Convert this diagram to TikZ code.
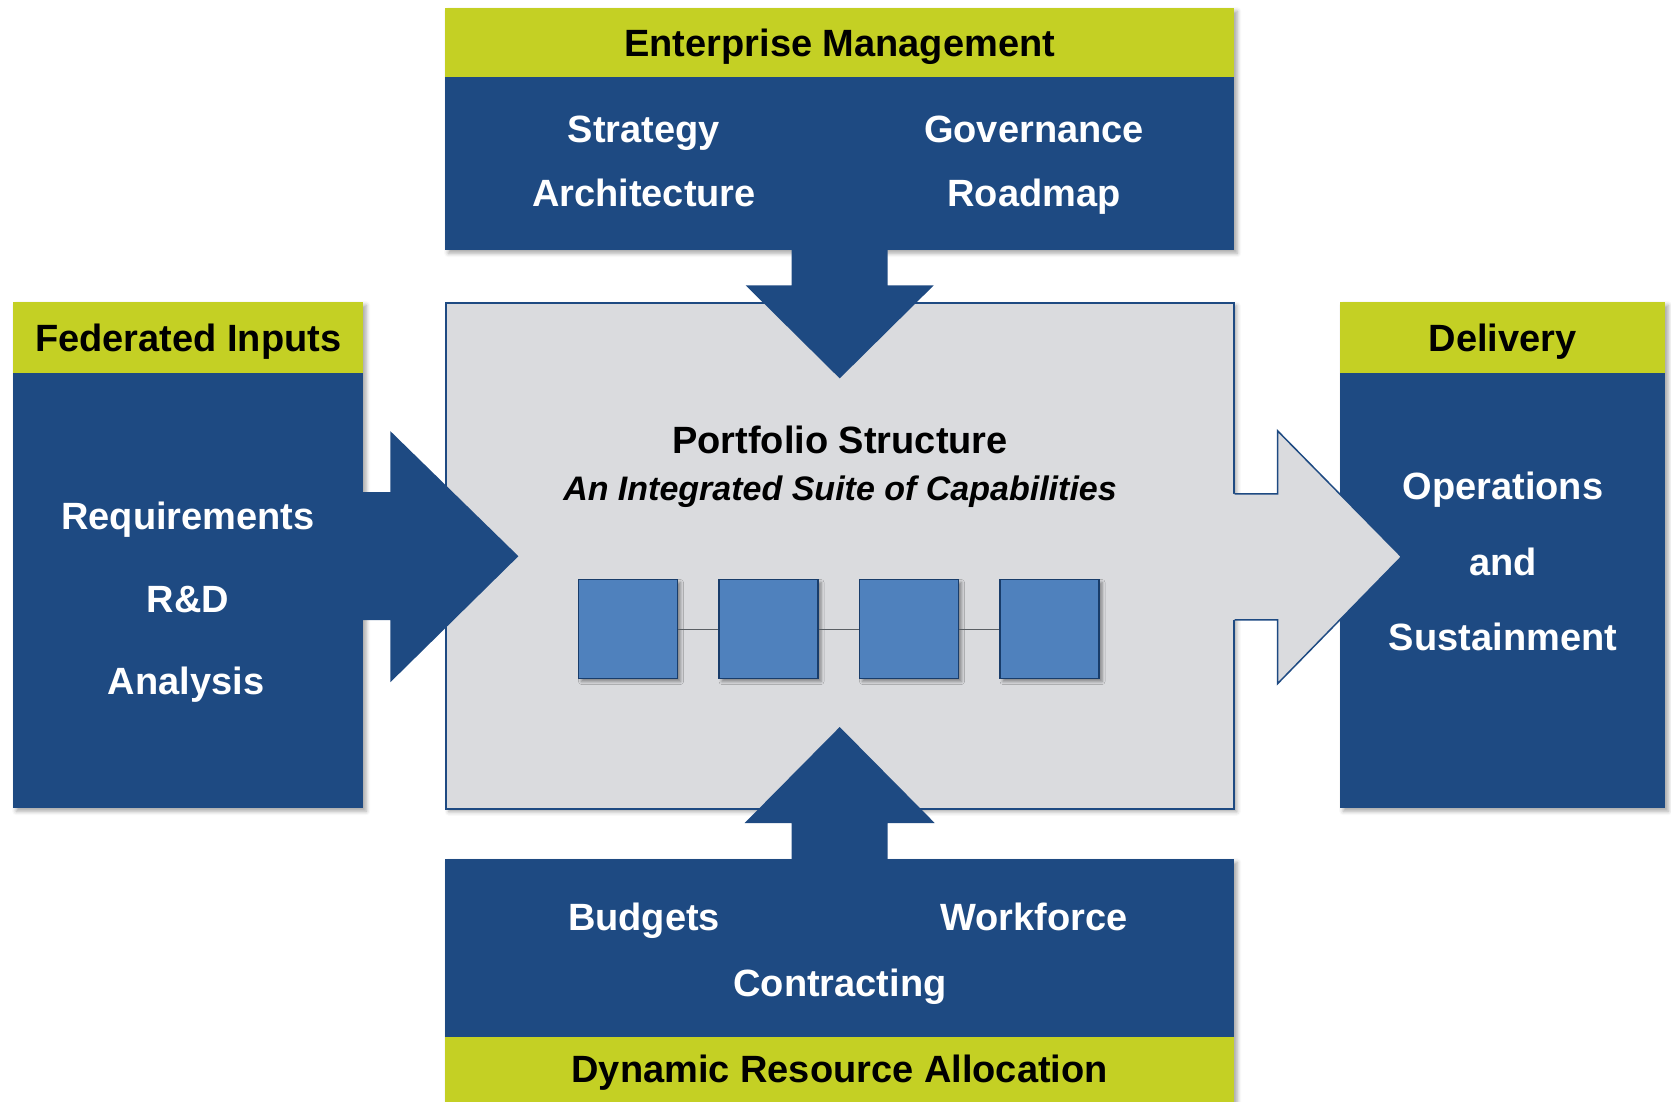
\documentclass[tikz,border=0pt]{standalone}
\usepackage{fontspec}
\setmainfont{Liberation Sans}
\usepackage{xcolor}
\definecolor{navy-800}{RGB}{30,74,130}
\definecolor{navy-900}{RGB}{24,60,106}
\definecolor{lime-500}{RGB}{196,208,36}
\definecolor{gray-200}{RGB}{218,219,222}
\definecolor{gray-700}{RGB}{90,95,100}
\definecolor{blue-500}{RGB}{79,129,189}
\usetikzlibrary{shadows.blur,positioning}

\begin{document}
\begin{tikzpicture}[
    x=1pt, y=-1pt,
    body box/.style={
        fill=navy-800,
        anchor=north west,
        minimum width=#1,
        inner sep=0pt,
        blur shadow={shadow xshift=3pt, shadow yshift=-3pt, shadow blur radius=4pt, shadow opacity=35}
    },
    head box/.style={
        fill=lime-500,
        minimum width=#1,
        inner sep=0pt,
        text height=27pt,
        text depth=0pt,
        font=\fontsize{38}{44}\selectfont\bfseries,
        text=black
    },
    panel box/.style={
        fill=gray-200,
        draw=navy-800,
        line width=1.5pt,
        anchor=north west,
        minimum width=788pt,
        minimum height=506pt,
        inner sep=0pt,
        blur shadow={shadow xshift=3pt, shadow yshift=-3pt, shadow blur radius=4pt, shadow opacity=35}
    },
    cap box/.style={
        draw=navy-900,
        line width=1.5pt,
        fill=blue-500,
        minimum size=99pt,
        inner sep=0pt,
        blur shadow={shadow xshift=3pt, shadow yshift=-3pt, shadow blur radius=3pt, shadow opacity=40}
    },
    item/.style={anchor=base, inner sep=0pt, text=white, font=\fontsize{38}{44}\selectfont\bfseries},
    title/.style={anchor=base, inner sep=0pt, text=black, font=\fontsize{38}{44}\selectfont\bfseries},
    block arrow/.style={fill=navy-800},
    link/.style={draw=gray-700, line width=0.8pt}
]
\useasboundingbox (0,0) rectangle (1671,1102);

% === ENTERPRISE MANAGEMENT (top) ===
\node[body box=789pt, minimum height=242pt] (embody) at (445,8) {};
\node[head box=789pt, minimum height=69pt, anchor=north west] (emhead) at (445,8) {Enterprise Management};
\node[item] (strategy) at (644,143) {Strategy};
\node[item] (governance) at (1034,143) {Governance};
\node[item] (architecture) at (644,207) {Architecture};
\node[item] (roadmap) at (1034,207) {Roadmap};

% === FEDERATED INPUTS (left) ===
\node[body box=350pt, minimum height=506pt] (fedbody) at (13,302) {};
\node[head box=350pt, minimum height=71pt, anchor=north west] (fedhead) at (13,302) {Federated Inputs};
\node[item] (req) at (188,529) {Requirements};
\node[item] (rnd) at (188,612) {R\&D};
\node[item] (ana) at (186,694) {Analysis};

% === DELIVERY (right) ===
\node[body box=325pt, minimum height=506pt] (delbody) at (1340,302) {};
\node[head box=325pt, minimum height=71pt, anchor=north west] (delhead) at (1340,302) {Delivery};
\node[item] (ops) at (1503,499) {Operations};
\node[item] (and) at (1503,575) {and};
\node[item] (sus) at (1503,650) {Sustainment};

% === DYNAMIC RESOURCE ALLOCATION (bottom) ===
\node[body box=789pt, minimum height=243pt] (drabody) at (445,859) {};
\node[head box=789pt, minimum height=65pt, anchor=south west] (drafoot) at (445,1102) {Dynamic Resource Allocation};
\node[item] (budgets) at (644,930) {Budgets};
\node[item] (workforce) at (1034,930) {Workforce};
\node[item] (contracting) at (840,996) {Contracting};

% === PORTFOLIO STRUCTURE (centre) ===
\node[panel box] (portfolio) at (445,302) {};

% Outgoing arrow to delivery, merged with the panel
\fill[gray-200] (portfolio.east) ++(-2,-62) -- ++(45,0) -- ++(0,-63) -- ++(124,126)
    -- ++(-124,127) -- ++(0,-64) -- ++(-45,0) -- cycle;
\draw[navy-800, line width=1.5pt, line join=miter] (portfolio.east) ++(0,-62) -- ++(43,0) -- ++(0,-63)
    -- ++(124,126) -- ++(-124,127) -- ++(0,-64) -- ++(-43,0);

\node[title] (ptitle) at (840,453) {Portfolio Structure};
\node[title, font=\fontsize{34}{40}\selectfont\bfseries\itshape] (psub) at (840,500) {An Integrated Suite of Capabilities};

% Capabilities
\foreach \i in {1,...,4}
    \node[cap box] (cap\i) at ({628+140.5*(\i-1)},629) {};
\foreach \i/\j in {1/2,2/3,3/4}
    \draw[link] (cap\i) -- (cap\j);

% === BLOCK ARROWS ===
% Enterprise management down into the portfolio
\fill[block arrow] (embody.south) ++(-48,-2) -- ++(96,0) -- ++(0,37) -- ++(46,0)
    -- ++(-94,93) -- ++(-94,-93) -- ++(46,0) -- cycle;

% Resource allocation up into the portfolio
\fill[block arrow] (drabody.north) ++(-48,2) -- ++(96,0) -- ++(0,-38) -- ++(47,0)
    -- ++(-95,-96) -- ++(-95,96) -- ++(47,0) -- cycle;

% Federated inputs right into the portfolio
\fill[block arrow] (fedbody.east) ++(-2,-63) -- ++(29,0) -- ++(0,-61) -- ++(128,125)
    -- ++(-128,126) -- ++(0,-62) -- ++(-29,0) -- cycle;

\end{tikzpicture}
\end{document}
